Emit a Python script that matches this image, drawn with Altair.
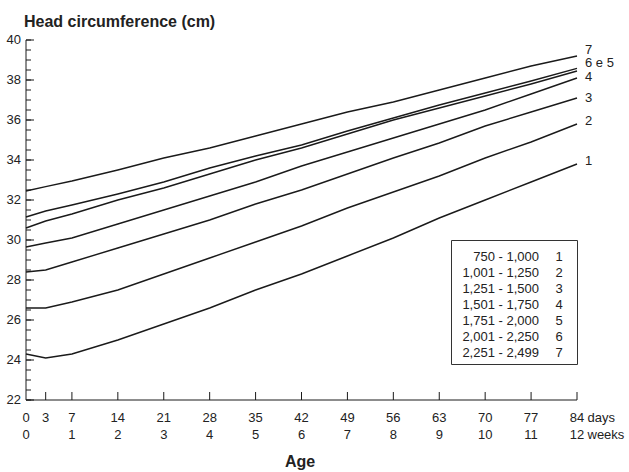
import altair as alt
import pandas as pd

# Age in days at which head circumference was measured
days = [0, 3, 7, 14, 21, 28, 35, 42, 49, 56, 63, 70, 77, 84]

# Head circumference (cm) for each birth-weight group
hc_1 = [24.3, 24.1, 24.3, 25.0, 25.8, 26.6, 27.5, 28.3, 29.2, 30.1, 31.1, 32.0, 32.9, 33.8]
hc_2 = [26.6, 26.6, 26.9, 27.5, 28.3, 29.1, 29.9, 30.7, 31.6, 32.4, 33.2, 34.1, 34.9, 35.8]
hc_3 = [28.4, 28.5, 28.9, 29.6, 30.3, 31.0, 31.8, 32.5, 33.3, 34.1, 34.85, 35.7, 36.4, 37.1]
hc_4 = [29.65, 29.85, 30.1, 30.8, 31.5, 32.2, 32.9, 33.7, 34.4, 35.1, 35.8, 36.5, 37.3, 38.1]
hc_5 = [30.6, 30.95, 31.3, 32.0, 32.6, 33.3, 34.0, 34.6, 35.3, 36.0, 36.6, 37.2, 37.8, 38.45]
hc_6 = [31.15, 31.45, 31.75, 32.3, 32.9, 33.6, 34.2, 34.75, 35.45, 36.1, 36.75, 37.35, 37.95, 38.58]
hc_7 = [32.45, 32.67, 32.95, 33.5, 34.1, 34.6, 35.2, 35.8, 36.4, 36.9, 37.5, 38.1, 38.7, 39.2]
series = [hc_1, hc_2, hc_3, hc_4, hc_5, hc_6, hc_7]

# Birth-weight ranges (g) and group numbers for the key
weight_ranges = ["750 - 1,000", "1,001 - 1,250", "1,251 - 1,500", "1,501 - 1,750",
                 "1,751 - 2,000", "2,001 - 2,250", "2,251 - 2,499"]
group_ids = ["1", "2", "3", "4", "5", "6", "7"]

# End-of-line labels, the group whose last point they sit beside, and a pixel nudge upward
end_labels = ["1", "2", "3", "4", "6 e 5", "7"]
end_groups = [1, 2, 3, 4, 6, 7]
end_lift = [3, 3, 0, 1, 5, 6.5]

# Axis tick labels
day_ticks = [0, 3, 7, 14, 21, 28, 35, 42, 49, 56, 63, 70, 77, 84]
week_ticks = list(range(0, 13))
y_ticks = list(range(22, 41, 2))
y_minor = [v / 2 for v in range(44, 81)]

FONT = "Liberation Sans"
INK = "#1a1a1a"
TXT = "#222"
W, H = 551, 360
Y0, Y1 = 22, 40
PX_PER_CM = H / (Y1 - Y0)

lines_df = pd.DataFrame(
    [{"day": d, "hc": v, "group": g + 1} for g, vals in enumerate(series) for d, v in zip(days, vals)]
)
end_df = pd.DataFrame({
    "label": end_labels,
    "day": [days[-1]] * len(end_labels),
    "hc": [series[g - 1][-1] for g in end_groups],
    "lift": end_lift,
})
key_df = pd.DataFrame({"range": weight_ranges, "gid": group_ids, "row": list(range(len(group_ids)))})
week_df = pd.DataFrame({"week": week_ticks, "day": [w * 7 for w in week_ticks]})
day_df = pd.DataFrame({"day": day_ticks})
tick_df = pd.DataFrame({"day": day_ticks[1:]})
major_df = pd.DataFrame({"v": y_ticks})
minor_df = pd.DataFrame({"v": y_minor})
one = pd.DataFrame({"k": [0]})

xs = alt.Scale(domain=[0, 84], nice=False, zero=False)
ys = alt.Scale(domain=[Y0, Y1], nice=False, zero=False)
# rows of the key, one line of text every 16 px
key_rows = alt.Scale(type="linear", domain=[0, 6], range=[220.7, 316.7], zero=False, nice=False)


def xq(field):
    return alt.X(field, scale=xs, axis=None)


def yq(field):
    return alt.Y(field, scale=ys, axis=None)


def text_mark(**kw):
    base = dict(font=FONT, fontSize=13, color=TXT, baseline="alphabetic", align="center")
    base.update(kw)
    return base


lines = alt.Chart(lines_df).mark_line(color=INK, strokeWidth=1.4).encode(
    x=xq("day:Q"), y=yq("hc:Q"), detail="group:N"
)

# Axis lines
y_domain = alt.Chart(one).mark_rule(color=INK, strokeWidth=1).encode(
    x=alt.value(0), y=alt.value(0), y2=alt.value(H)
)
x_domain = alt.Chart(one).mark_rule(color=INK, strokeWidth=1).encode(
    x=alt.value(0), x2=alt.value(W), y=alt.value(H)
)

# Inward-pointing y ticks
major_ticks = alt.Chart(major_df).mark_rule(color=INK, strokeWidth=1).encode(
    y=yq("v:Q"), x=alt.value(0), x2=alt.value(8)
)
minor_ticks = alt.Chart(minor_df).mark_rule(color=INK, strokeWidth=1).encode(
    y=yq("v:Q"), x=alt.value(0), x2=alt.value(5)
)
# Upward-pointing x ticks
x_ticks = alt.Chart(tick_df).mark_rule(color=INK, strokeWidth=1).encode(
    x=xq("day:Q"), y=alt.value(H), y2=alt.value(H - 8)
)

y_labels = alt.Chart(major_df).mark_text(**text_mark(align="right", baseline="middle", dx=-5)).encode(
    x=alt.value(0), y=yq("v:Q"), text="v:Q"
)
day_labels = alt.Chart(day_df).mark_text(**text_mark()).encode(
    x=xq("day:Q"), y=alt.value(381.8), text="day:Q"
)
week_labels = alt.Chart(week_df).mark_text(**text_mark()).encode(
    x=xq("day:Q"), y=alt.value(398.5), text="week:Q"
)
days_word = alt.Chart(pd.DataFrame({"day": [84]})).mark_text(**text_mark(align="left", dx=10.5)).encode(
    x=xq("day:Q"), y=alt.value(381.8), text=alt.value("days")
)
weeks_word = alt.Chart(pd.DataFrame({"day": [84]})).mark_text(**text_mark(align="left", dx=10.5)).encode(
    x=xq("day:Q"), y=alt.value(398.5), text=alt.value("weeks")
)

end_text = alt.Chart(end_df).transform_calculate(
    ly=f"datum.hc + datum.lift / {PX_PER_CM}"
).mark_text(**text_mark(fontSize=13, baseline="middle", align="left", dx=8)).encode(
    x=xq("day:Q"), y=yq("ly:Q"), text="label:N"
)

# Key box with weight ranges and group numbers
key_box = alt.Chart(one).mark_rect(fill="white", stroke="#333", strokeWidth=1).encode(
    x=alt.value(425.5), x2=alt.value(551.5), y=alt.value(200.5), y2=alt.value(324.5)
)
key_range = alt.Chart(key_df).mark_text(**text_mark(align="right")).encode(
    x=alt.value(513), y=alt.Y("row:Q", scale=key_rows, axis=None), text="range:N"
)
key_id = alt.Chart(key_df).mark_text(**text_mark()).encode(
    x=alt.value(533), y=alt.Y("row:Q", scale=key_rows, axis=None), text="gid:N"
)
key = alt.layer(key_range, key_id)

title_text = alt.Chart(one).mark_text(**text_mark(fontSize=16, fontWeight="bold", align="left")).encode(
    x=alt.value(-2), y=alt.value(-13), text=alt.value("Head circumference (cm)")
)
age_text = alt.Chart(one).mark_text(**text_mark(fontSize=16, fontWeight="bold")).encode(
    x=alt.value(274), y=alt.value(427), text=alt.value("Age")
)

main = alt.layer(
    lines, y_domain, x_domain, major_ticks, minor_ticks, x_ticks, y_labels, day_labels,
    week_labels, days_word, weeks_word, end_text, key_box, title_text, age_text
)

chart = alt.layer(main, key).resolve_scale(y="independent").properties(
    width=W, height=H,
    padding={"left": 26, "top": 40, "right": 52, "bottom": 72},
    autosize=alt.AutoSizeParams(type="none"),
    background="white",
).configure_view(stroke=None)

chart.save("out.html", embed_options={"renderer": "svg", "actions": False})
